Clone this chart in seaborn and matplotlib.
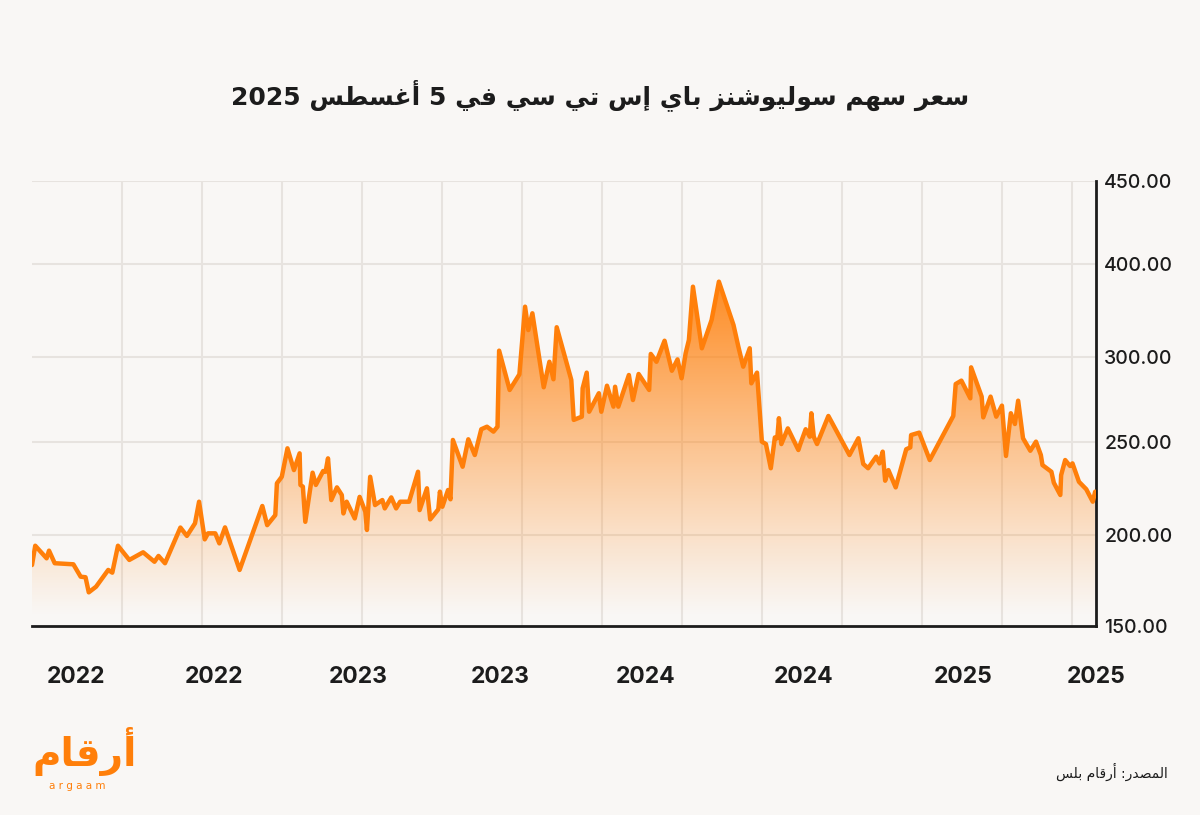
import re
import numpy as np
import pandas as pd
import matplotlib
matplotlib.use("Agg")
import matplotlib.pyplot as plt
import matplotlib.dates as mdates
import seaborn as sns

# ---- data ----
dates = [
    "2022-01-01", "2022-01-05", "2022-01-19", "2022-01-22", "2022-01-29", "2022-02-21",
    "2022-03-02", "2022-03-08", "2022-03-12", "2022-03-21", "2022-04-05", "2022-04-10",
    "2022-04-17", "2022-05-01", "2022-05-18", "2022-06-01", "2022-06-06", "2022-06-14",
    "2022-07-03", "2022-07-11", "2022-07-21", "2022-07-26", "2022-08-02", "2022-08-06",
    "2022-08-15", "2022-08-20", "2022-08-27", "2022-09-14", "2022-10-12", "2022-10-18",
    "2022-10-28", "2022-10-30", "2022-11-05", "2022-11-12", "2022-11-20", "2022-11-27",
    "2022-11-28", "2022-12-01", "2022-12-04", "2022-12-13", "2022-12-17", "2022-12-26",
    "2022-12-29", "2023-01-01", "2023-01-05", "2023-01-12", "2023-01-18", "2023-01-20",
    "2023-01-24", "2023-02-03", "2023-02-09", "2023-02-16", "2023-02-18", "2023-02-22",
    "2023-02-28", "2023-03-09", "2023-03-12", "2023-03-20", "2023-03-26", "2023-03-31",
    "2023-04-11", "2023-04-22", "2023-04-24", "2023-05-03", "2023-05-07", "2023-05-17",
    "2023-05-19", "2023-05-22", "2023-05-29", "2023-06-01", "2023-06-04", "2023-06-16",
    "2023-06-23", "2023-07-01", "2023-07-09", "2023-07-16", "2023-07-24", "2023-07-29",
    "2023-07-31", "2023-08-13", "2023-08-25", "2023-09-01", "2023-09-05", "2023-09-10",
    "2023-09-24", "2023-10-01", "2023-10-06", "2023-10-10", "2023-10-28", "2023-10-31",
    "2023-11-10", "2023-11-11", "2023-11-16", "2023-11-19", "2023-12-01", "2023-12-04",
    "2023-12-11", "2023-12-19", "2023-12-21", "2023-12-25", "2024-01-07", "2024-01-12",
    "2024-01-19", "2024-02-01", "2024-02-03", "2024-02-10", "2024-02-20", "2024-02-29",
    "2024-03-07", "2024-03-12", "2024-03-17", "2024-03-21", "2024-03-26", "2024-04-06",
    "2024-04-18", "2024-04-27", "2024-05-15", "2024-05-21", "2024-05-27", "2024-06-04",
    "2024-06-06", "2024-06-13", "2024-06-19", "2024-06-24", "2024-06-30", "2024-07-05",
    "2024-07-08", "2024-07-10", "2024-07-13", "2024-07-21", "2024-08-03", "2024-08-05",
    "2024-08-12", "2024-08-17", "2024-08-19", "2024-08-22", "2024-08-26", "2024-09-09",
    "2024-10-05", "2024-10-16", "2024-10-22", "2024-10-28", "2024-11-07", "2024-11-11",
    "2024-11-15", "2024-11-18", "2024-11-22", "2024-12-01", "2024-12-14", "2024-12-19",
    "2024-12-20", "2024-12-30", "2025-01-12", "2025-02-10", "2025-02-13", "2025-02-20",
    "2025-03-03", "2025-03-04", "2025-03-17", "2025-03-19", "2025-03-28", "2025-04-04",
    "2025-04-11", "2025-04-16", "2025-04-22", "2025-04-27", "2025-05-01", "2025-05-07",
    "2025-05-16", "2025-05-23", "2025-05-29", "2025-05-31", "2025-06-11", "2025-06-14",
    "2025-06-22", "2025-06-23", "2025-06-28", "2025-07-04", "2025-07-07", "2025-07-15",
    "2025-07-24", "2025-08-01", "2025-08-04",
]
prices = [
    183.5, 194.1, 187.2, 191.4, 184.5, 183.9,
    177.1, 176.8, 168.5, 171.6, 180.8, 179.3,
    194.1, 186.3, 190.5, 185.3, 188.5, 184.5,
    204.0, 199.5, 206.3, 217.9, 197.6, 200.9,
    200.9, 195.4, 204.1, 180.8, 215.6, 205.3,
    210.7, 227.8, 231.3, 246.6, 234.9, 243.9,
    226.9, 226.0, 207.1, 233.5, 226.9, 234.4,
    234.0, 241.2, 218.8, 225.6, 221.5, 211.6,
    217.9, 208.9, 220.5, 212.5, 202.7, 231.3,
    216.1, 218.8, 214.3, 220.2, 214.3, 217.9,
    217.9, 234.0, 213.4, 225.1, 208.4, 213.8,
    223.3, 215.2, 224.2, 219.2, 251.2, 236.7,
    251.6, 243.0, 257.5, 259.0, 256.1, 259.0,
    306.8, 280.6, 289.8, 354.1, 329.0, 347.0,
    282.2, 297.2, 286.9, 332.0, 286.5, 263.0,
    264.9, 281.6, 290.8, 267.8, 278.7, 267.8,
    283.1, 270.8, 282.5, 270.8, 289.4, 274.7,
    290.0, 280.6, 303.3, 297.2, 317.5, 291.9,
    298.6, 287.5, 304.0, 318.3, 375.6, 309.4,
    339.8, 381.0, 334.4, 311.1, 294.3, 309.4,
    284.5, 290.8, 250.2, 248.9, 235.9, 252.7,
    252.2, 264.0, 248.9, 258.0, 245.7, 248.4,
    257.5, 253.1, 266.9, 253.1, 248.9, 265.3,
    243.0, 252.2, 238.2, 235.9, 242.1, 238.5,
    244.8, 229.2, 234.9, 225.6, 246.1, 247.1,
    254.1, 255.5, 240.3, 265.3, 284.1, 286.1,
    275.7, 293.9, 276.7, 264.5, 276.7, 264.9,
    271.4, 242.5, 266.9, 260.6, 274.3, 252.2,
    245.3, 250.2, 243.0, 237.6, 234.0, 228.1,
    221.5, 232.2, 240.3, 237.1, 238.5, 228.6,
    224.6, 217.9, 223.3,
]

y_ticks = [150, 200, 250, 300, 400, 450]
x_tick_dates = ["2022-02-24", "2022-08-13", "2023-02-07", "2023-08-01",
                "2024-01-27", "2024-08-10", "2025-02-22", "2025-08-05"]
x_tick_labels = ["2022", "2022", "2023", "2023", "2024", "2024", "2025", "2025"]

title = "سعر سهم سوليوشنز باي إس تي سي في 5 أغسطس 2025"
source = "المصدر: أرقام بلس"
logo = "أرقام"

# ---- minimal Arabic shaping (matplotlib has no bidi / joining) ----
FORMS = {
    "ا": ("\uFE8D", "\uFE8E", None, None), "أ": ("\uFE83", "\uFE84", None, None),
    "إ": ("\uFE87", "\uFE88", None, None), "ب": ("\uFE8F", "\uFE90", "\uFE91", "\uFE92"),
    "ت": ("\uFE95", "\uFE96", "\uFE97", "\uFE98"), "د": ("\uFEA9", "\uFEAA", None, None),
    "ر": ("\uFEAD", "\uFEAE", None, None), "ز": ("\uFEAF", "\uFEB0", None, None),
    "س": ("\uFEB1", "\uFEB2", "\uFEB3", "\uFEB4"), "ش": ("\uFEB5", "\uFEB6", "\uFEB7", "\uFEB8"),
    "ص": ("\uFEB9", "\uFEBA", "\uFEBB", "\uFEBC"), "ط": ("\uFEC1", "\uFEC2", "\uFEC3", "\uFEC4"),
    "ع": ("\uFEC9", "\uFECA", "\uFECB", "\uFECC"), "غ": ("\uFECD", "\uFECE", "\uFECF", "\uFED0"),
    "ف": ("\uFED1", "\uFED2", "\uFED3", "\uFED4"), "ق": ("\uFED5", "\uFED6", "\uFED7", "\uFED8"),
    "ل": ("\uFEDD", "\uFEDE", "\uFEDF", "\uFEE0"), "م": ("\uFEE1", "\uFEE2", "\uFEE3", "\uFEE4"),
    "ن": ("\uFEE5", "\uFEE6", "\uFEE7", "\uFEE8"), "ه": ("\uFEE9", "\uFEEA", "\uFEEB", "\uFEEC"),
    "و": ("\uFEED", "\uFEEE", None, None), "ي": ("\uFEF1", "\uFEF2", "\uFEF3", "\uFEF4"),
}


def shape(s):
    out = []
    for i, c in enumerate(s):
        if c not in FORMS:
            out.append(c)
            continue
        prev = s[i - 1] if i > 0 else ""
        nxt = s[i + 1] if i + 1 < len(s) else ""
        jp = prev in FORMS and FORMS[prev][2] is not None
        jn = FORMS[c][2] is not None and nxt in FORMS
        iso, fin, ini, med = FORMS[c]
        out.append(med if (jp and jn) else fin if jp else ini if jn else iso)
    vis = "".join(out)[::-1]
    return re.sub(r"[0-9]+", lambda m: m.group(0)[::-1], vis)


# ---- style ----
BG = "#F9F7F5"
ORANGE = "#FF7F0A"
GRID = "#E7E3DF"
INK = "#1C1C1C"

sns.set_theme(style="white")
plt.rcParams["font.family"] = ["Inter", "DejaVu Sans"]

df = pd.DataFrame({"date": pd.to_datetime(dates), "price": prices})

fig = plt.figure(figsize=(12, 8.15), dpi=100, facecolor=BG)
ax = fig.add_axes([32 / 1200, 1 - 626 / 815, (1096 - 32) / 1200, (626 - 181) / 815])
ax.set_facecolor(BG)

# uneven value axis as drawn in the reference
grid_pos = [0, 91, 184, 269, 362, 445]
ax.set_yscale("function", functions=(lambda v: np.interp(v, y_ticks, grid_pos),
                                     lambda p: np.interp(p, grid_pos, y_ticks)))
ax.set_ylim(150, 450)
ax.set_xlim(pd.Timestamp("2022-01-01"), pd.Timestamp("2025-08-05"))

# gradient fill under the line
poly = ax.fill_between(df["date"], df["price"], 150, color="none", lw=0)
yy = np.linspace(0, 1, 400)[:, None]
alpha = np.clip((yy - 0.02) / (0.80 - 0.02), 0, 1) ** 1.1 * 0.93
grad = np.zeros((400, 1, 4))
grad[..., 0], grad[..., 1], grad[..., 2] = 1.0, 0.50, 0.04
grad[..., 3] = alpha
im = ax.imshow(grad, extent=[0, 1, 0, 1], transform=ax.transAxes, origin="lower",
               aspect="auto", zorder=1, interpolation="bilinear")
im.set_clip_path(poly.get_paths()[0], transform=poly.get_transform())

sns.lineplot(data=df, x="date", y="price", ax=ax, color=ORANGE, lw=3.2, zorder=3)

# grid
ax.set_yticks(y_ticks)
ax.set_yticklabels([f"{v:.2f}" for v in y_ticks])
for v in y_ticks[1:]:
    ax.axhline(v, color=GRID, lw=1.5, zorder=0)
vgrid = list(np.linspace(mdates.date2num(pd.Timestamp("2022-04-22")),
                         mdates.date2num(pd.Timestamp("2025-04-11")), 12))
vgrid.append(mdates.date2num(pd.Timestamp("2025-07-06")))
for g in vgrid:
    ax.axvline(g, color=GRID, lw=1.5, zorder=0)

ax.set_xticks(pd.to_datetime(x_tick_dates))
ax.set_xticklabels(x_tick_labels)
ax.tick_params(axis="x", direction="out", length=14, width=2, color=INK, pad=15,
               labelsize=16.5, labelcolor=INK)
for lab in ax.get_xticklabels():
    lab.set_fontweight("bold")
ax.yaxis.tick_right()
ax.tick_params(axis="y", length=0, pad=6, labelsize=14, labelcolor=INK)
for lab in ax.get_yticklabels():
    lab.set_fontweight("medium")
ax.set_xlabel("")
ax.set_ylabel("")

for s in ["top", "left"]:
    ax.spines[s].set_visible(False)
for s in ["bottom", "right"]:
    ax.spines[s].set_color(INK)
    ax.spines[s].set_linewidth(2)

# texts
fig.text(0.5, 1 - 95 / 815, shape(title), ha="center", va="center", fontsize=18,
         fontweight="bold", color=INK, family=["DejaVu Sans"])
fig.text(1168 / 1200, 1 - 772 / 815, shape(source), ha="right", va="center",
         fontsize=10, color=INK, family=["DejaVu Sans"])
fig.text(85 / 1200, 1 - 752 / 815, shape(logo), ha="center", va="center",
         fontsize=28, fontweight="bold", color=ORANGE, family=["DejaVu Sans"])
fig.text(77 / 1200, 1 - 786 / 815, "a r g a a m", ha="center", va="center",
         fontsize=7.5, color=ORANGE, family=["DejaVu Sans"])

fig.savefig("out.png", dpi=100, facecolor=BG)
